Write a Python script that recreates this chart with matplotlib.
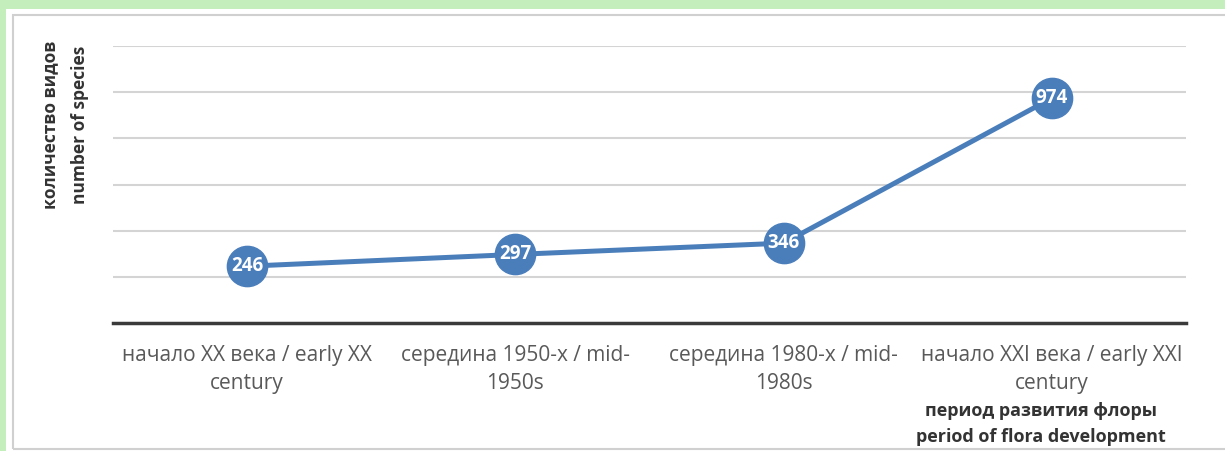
import numpy as np
import matplotlib.pyplot as plt
from matplotlib.patches import Rectangle

plt.rcParams['font.family'] = ['Open Sans', 'DejaVu Sans']

categories = ["начало XX века / early XX\ncentury",
              "середина 1950-х / mid-\n1950s",
              "середина 1980-х / mid-\n1980s",
              "начало XXI века / early XXI\ncentury"]
species = [246, 297, 346, 974]
y_ticks = [0, 200, 400, 600, 800, 1000, 1200]

blue = '#4a7ebb'

fig = plt.figure(figsize=(12.25, 4.51), dpi=100, facecolor='#c4eebc')
# white panel with thin grey frame
fig.patches.append(Rectangle((6 / 1225, 0), 1.0, (451 - 9) / 451, transform=fig.transFigure,
                             facecolor='white', edgecolor='none', zorder=-2))
fig.patches.append(Rectangle((13 / 1225, 2 / 451), 1.2, (451 - 17) / 451, transform=fig.transFigure,
                             facecolor='none', edgecolor='#d0d0d0', lw=1.5, zorder=-1))

ax = fig.add_axes([113 / 1225, (451 - 323) / 451, 1073 / 1225, (323 - 46) / 451])
ax.set_facecolor('none')
ax.set_zorder(5)

x = np.arange(len(categories))
ax.plot(x, species, color=blue, lw=3.6, marker='o', markersize=29,
        markerfacecolor=blue, markeredgecolor=blue, zorder=3, clip_on=False)
for xi, v in zip(x, species):
    ax.text(xi, v, str(v), color='white', fontsize=13.5, fontweight='bold',
            ha='center', va='center', zorder=4)

ax.set_xlim(-0.5, len(categories) - 0.5)
ax.set_ylim(0, 1200)
ax.set_yticks(y_ticks)
ax.yaxis.grid(True, color='#d4d4d4', lw=1.5)
ax.set_axisbelow(True)
ax.tick_params(axis='y', left=False, labelleft=False)
ax.set_xticks(x)
ax.set_xticklabels(categories, fontsize=15, color='#595959', linespacing=1.42)
ax.tick_params(axis='x', length=0, pad=16)
for s in ['top', 'right', 'left']:
    ax.spines[s].set_visible(False)
ax.spines['bottom'].set_color('#3a3a3a')
ax.spines['bottom'].set_linewidth(2.5)

fig.text(65 / 1225, 1 - 125 / 451, "количество видов\nnumber of species", rotation=90,
         ha='center', va='center', fontsize=12.5, fontweight='bold', color='#333333',
         linespacing=1.8)
fig.text(1041 / 1225, 1 - 424 / 451, "период развития флоры\nperiod of flora development",
         ha='center', va='center', fontsize=13, fontweight='bold', color='#333333',
         linespacing=1.5)

fig.savefig('out.png', dpi=100, facecolor=fig.get_facecolor())
